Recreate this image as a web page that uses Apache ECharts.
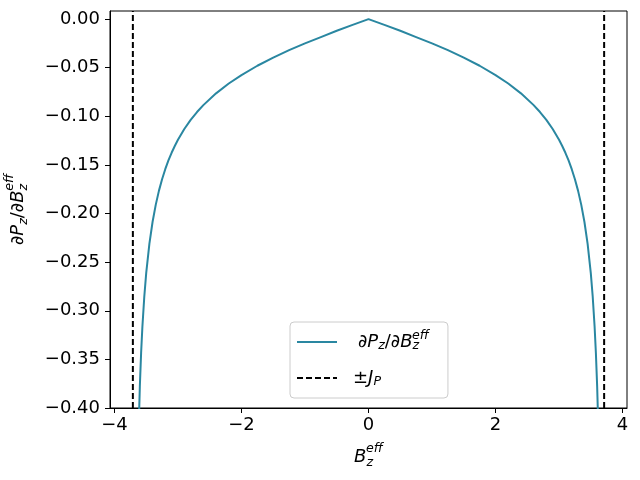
<!DOCTYPE html>
<html>
<head>
<meta charset="utf-8">
<script src="https://cdn.jsdelivr.net/npm/echarts@6/dist/echarts.min.js"></script>
<style>html,body{margin:0;padding:0;background:#fff;}#c{width:640px;height:480px;}</style>
</head>
<body>
<div id="c"></div>
<script>
// Data
var bPos = [0, 0.25, 0.5, 0.75, 1.0, 1.25, 1.5, 1.75, 2.0, 2.2, 2.4, 2.6, 2.7, 2.8, 2.9, 3.0, 3.05, 3.1, 3.15, 3.2, 3.25, 3.3, 3.35, 3.4, 3.45, 3.5, 3.53, 3.56, 3.58, 3.6, 3.62, 3.65];
var dPdB = [0, -0.006, -0.012, -0.0185, -0.025, -0.032, -0.0397, -0.048, -0.0576, -0.0663, -0.0764, -0.0885, -0.0956, -0.1037, -0.1131, -0.1241, -0.1305, -0.1375, -0.1454, -0.1544, -0.1647, -0.1767, -0.1911, -0.2087, -0.2312, -0.2613, -0.2853, -0.3164, -0.3432, -0.3775, -0.4239, -0.54];
var jP = [3.71];
var xTicks = [-4, -2, 0, 2, 4];
var yTicks = [-0.40, -0.35, -0.30, -0.25, -0.20, -0.15, -0.10, -0.05, 0.00];
var xRange = [-4.07, 4.07];
var yRange = [-0.40, 0.0083];

var curve = [];
for (var i = bPos.length - 1; i > 0; i--) curve.push([-bPos[i], dPdB[i]]);
for (var j = 0; j < bPos.length; j++) curve.push([bPos[j], dPdB[j]]);

var FONT = 'DejaVu Sans';
var FS = 18;
var FSS = 12.6;
var name1 = '\u2202P_z/\u2202B_z^eff';
var name2 = '\u00b1J_P';

function richSet(lh) {
  return {
    d: {fontFamily: FONT, fontSize: FS, fontStyle: 'italic', lineHeight: lh, color: '#000'},
    u: {fontFamily: FONT, fontSize: FS, lineHeight: lh, color: '#000'},
    sub: {fontFamily: FONT, fontSize: FSS, fontStyle: 'italic', lineHeight: 12, verticalAlign: 'bottom', color: '#000', padding: [0, 0, 3, 0]},
    sup: {fontFamily: FONT, fontSize: FSS, fontStyle: 'italic', lineHeight: 12, verticalAlign: 'top', color: '#000', padding: [0, 0, 0, -7]}
  };
}

var chart = echarts.init(document.getElementById('c'), null, {renderer: 'canvas'});
chart.setOption({
  animation: false,
  backgroundColor: '#fff',
  grid: {left: 110, right: 13, top: 11, bottom: 72, show: true, borderColor: '#000', borderWidth: 1,
    containLabel: false, outerBoundsMode: 'none'},
  xAxis: {
    type: 'value', min: xRange[0], max: xRange[1],
    axisLine: {show: true, onZero: false, lineStyle: {color: '#000', width: 1}},
    axisTick: {show: true, customValues: xTicks, length: 5, lineStyle: {color: '#000'}},
    axisLabel: {customValues: xTicks, margin: 8, color: '#000', fontFamily: FONT, fontSize: FS,
      formatter: function (v) { return String(v).replace('-', '\u2212'); }},
    splitLine: {show: false},
    name: '{d|B}{sub|z}{sup|eff}',
    nameLocation: 'middle', nameGap: 34,
    nameTextStyle: {fontFamily: FONT, color: '#000', rich: richSet(30)}
  },
  yAxis: {
    type: 'value', min: yRange[0], max: yRange[1],
    axisLine: {show: true, onZero: false, lineStyle: {color: '#000', width: 1}},
    axisTick: {show: true, customValues: yTicks, length: 5, lineStyle: {color: '#000'}},
    axisLabel: {customValues: yTicks, margin: 10, color: '#000', fontFamily: FONT, fontSize: FS,
      formatter: function (v) { var s = Math.abs(v).toFixed(2); return (v < -1e-9 ? '\u2212' : '') + s; }},
    splitLine: {show: false},
    name: '{u|\u2202}{d|P}{sub|z}{u|/\u2202}{d|B}{sub|z}{sup|eff}',
    nameLocation: 'middle', nameGap: 77, nameRotate: 90,
    nameTextStyle: {fontFamily: FONT, color: '#000', rich: richSet(30)}
  },
  legend: {
    left: 290, top: 322, orient: 'vertical',
    padding: [7, 19, 7, 6], itemGap: 14, itemWidth: 40, itemHeight: 14,
    backgroundColor: 'rgba(255,255,255,0.8)', borderColor: '#cccccc', borderWidth: 1, borderRadius: 4,
    itemStyle: {opacity: 0, borderWidth: 0},
    data: [name1, name2],
    formatter: function (n) {
      if (n === name1) return '{sp|}{u|\u2202}{d|P}{sub|z}{u|/\u2202}{d|B}{sub|z}{sup|eff}';
      return '{sp2|}{u|\u00b1}{d|J}{sub|P}';
    },
    textStyle: {
      fontFamily: FONT, color: '#000',
      rich: Object.assign({sp: {width: 16}, sp2: {width: 11}}, richSet(26))
    }
  },
  series: [
    {name: name1, type: 'line', data: curve, symbol: 'none', clip: true, smooth: false,
     lineStyle: {color: '#2a87a1', width: 2}, itemStyle: {color: '#2a87a1'}},
    {name: name2, type: 'line', data: [[-jP[0], yRange[0]], [-jP[0], yRange[1]]], symbol: 'none',
     lineStyle: {color: '#000', width: 2, type: [6, 3]}, itemStyle: {color: '#000'}},
    {name: name2, type: 'line', data: [[jP[0], yRange[0]], [jP[0], yRange[1]]], symbol: 'none',
     lineStyle: {color: '#000', width: 2, type: [6, 3]}, itemStyle: {color: '#000'}}
  ]
});
</script>
</body>
</html>
